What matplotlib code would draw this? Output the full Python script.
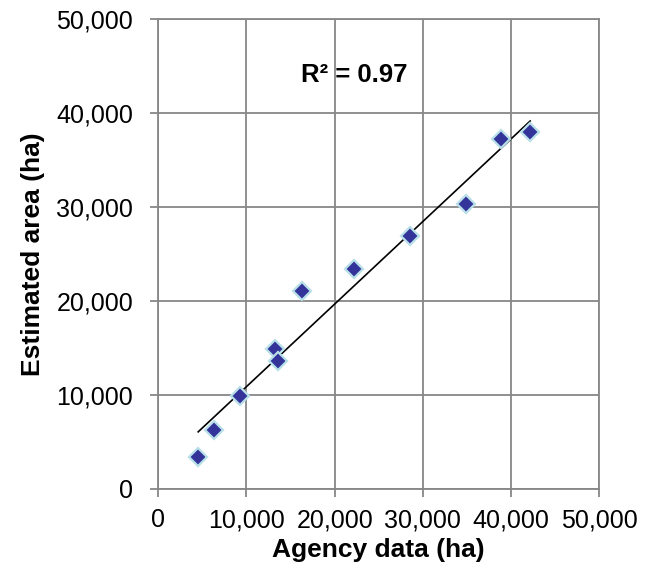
import matplotlib
matplotlib.use("Agg")
import matplotlib.pyplot as plt
import numpy as np
from matplotlib.ticker import FuncFormatter, MultipleLocator

agency = [4525, 6300, 9320, 13240, 13620, 16260, 22140, 28590, 34890, 38850, 42160]
estimated = [3410, 6260, 9880, 14860, 13650, 21080, 23460, 26900, 30320, 37280, 38060]
r2_label = "R² = 0.97"
x_label = "Agency data (ha)"
y_label = "Estimated area (ha)"

plt.rcParams['font.family'] = ['Liberation Sans', 'DejaVu Sans']

fig = plt.figure(figsize=(6.54, 5.78), dpi=100)
ax = fig.add_axes([0.242, 0.1545, 0.6744, 0.8118])

grid_c = '#878787'
ax.set_xlim(0, 50000)
ax.set_ylim(0, 50000)
ax.xaxis.set_major_locator(MultipleLocator(10000))
ax.yaxis.set_major_locator(MultipleLocator(10000))
fmt = FuncFormatter(lambda v, p: f"{int(v):,}")
ax.xaxis.set_major_formatter(fmt)
ax.yaxis.set_major_formatter(fmt)
ax.grid(True, color=grid_c, linewidth=1.3)
ax.set_axisbelow(True)
for s in ax.spines.values():
    s.set_color(grid_c)
    s.set_linewidth(1.3)
ax.tick_params(axis='both', direction='out', length=6, width=1.3, color=grid_c,
               labelsize=18, labelcolor='black')
ax.tick_params(axis='y', pad=12)
ax.tick_params(axis='x', pad=8)

x = np.array(agency, dtype=float)
y = np.array(estimated, dtype=float)
m, b = np.polyfit(x, y, 1)
xs = np.array([x.min(), x.max()])
ax.plot(xs, m * xs + b, color='black', linewidth=1.2, zorder=3)
ax.plot(x, y, linestyle='none', marker='D', markersize=9.5, markerfacecolor='#333399',
        markeredgecolor='#b8e0e8', markeredgewidth=1.6, zorder=4)

ax.text(22250, 44100, r2_label, fontsize=18.5, fontweight='bold', ha='center', va='center')
ax.set_xlabel(x_label, fontsize=19, fontweight='bold', labelpad=4)
ax.set_ylabel(y_label, fontsize=19, fontweight='bold', labelpad=8)

fig.savefig("out.png", dpi=100)
